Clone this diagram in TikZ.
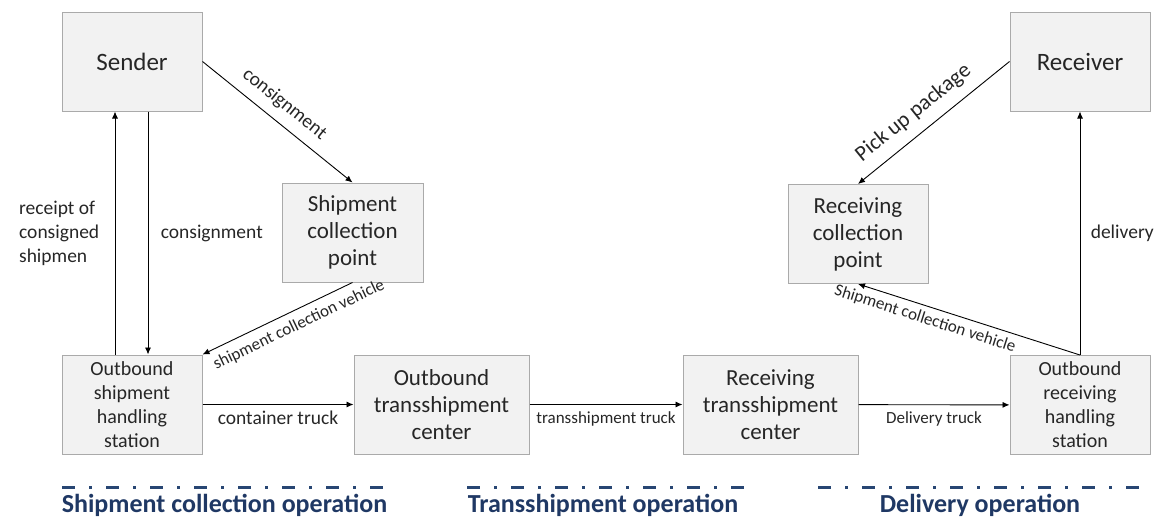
\documentclass[tikz,border=0pt]{standalone}
\usepackage{fontspec}
\setmainfont{Carlito}
\usepackage{tikz}
\usetikzlibrary{arrows.meta}
\definecolor{boxfill}{RGB}{242,242,242}
\definecolor{boxline}{RGB}{170,170,170}
\definecolor{opblue}{RGB}{31,56,100}
\definecolor{oprule}{RGB}{40,70,115}
% dash-dot rule above an operation title: from x #1 to x #2
\newcommand{\opline}[2]{
	\draw[oprule, line width=3pt, dash pattern=on 13pt off 14pt on 3pt off 14pt] (#1,487) -- (#2,487);
}
\tikzset{
	station/.style={draw=boxline, fill=boxfill, line width=1pt, text=black!85, align=center, inner sep=0pt, minimum height=99pt, minimum width=140pt},
	bigtext/.style={font=\fontsize{25}{30}\selectfont},
	midtext/.style={font=\fontsize{23}{27}\selectfont},
	smalltext/.style={font=\fontsize{20}{24}\selectfont},
	flow/.style={-{Latex[length=7pt,width=6pt]}, line width=0.9pt},
	lbl/.style={font=\fontsize{19.5}{24}\selectfont, text=black!85},
	smalllbl/.style={font=\fontsize{17}{20}\selectfont, text=black!85},
	optitle/.style={font=\fontsize{26}{30}\selectfont\bfseries, text=opblue, inner sep=0pt}
}

\begin{document}
\begin{tikzpicture}[x=1pt, y=-1pt]
\useasboundingbox (0,0) rectangle (1166,520);
% sender and receiver
\node[station, bigtext] (sender) at (132,61.5) {Sender};
\node[station, bigtext] (receiver) at (1080,61.5) {Receiver};
% collection points
\node[station, midtext, minimum width=141pt] (scp) at (352.5,232.5) {Shipment\\collection\\point};
\node[station, midtext] (rcp) at (858,234) {Receiving\\collection\\point};
% stations and centers
\node[station, smalltext] (oshs) at (132,404.5) {Outbound\\shipment\\handling\\station};
\node[station, midtext, minimum width=175pt] (otc) at (441.5,404.5) {Outbound\\transshipment\\center};
\node[station, midtext, minimum width=175pt] (rtc) at (770.5,404.5) {Receiving\\transshipment\\center};
\node[station, smalltext] (orhs) at (1080,405) {Outbound\\receiving\\handling\\station};

% flows
\draw[flow] ([xshift=-17pt]oshs.north) -- node[lbl, left=12pt, align=left] {receipt of\\consigned\\shipmen} ([xshift=-17pt]sender.south);
\draw[flow] ([xshift=16pt]sender.south) -- node[lbl, right=9pt] {consignment} ([xshift=16pt]oshs.north);
\draw[flow] (sender.east) -- node[lbl, sloped, above=6pt, pos=0.47] {consignment} (scp.north);
\draw[flow] (scp.south) -- node[smalllbl, sloped, below=4pt, pos=0.4] {shipment collection vehicle} (oshs.north east);
\draw[flow] (oshs) -- node[lbl, below=3pt] {container truck} (otc);
\draw[flow] (otc) -- node[smalllbl, below=3pt] {transshipment truck} (rtc);
\draw[flow] (rtc) -- node[smalllbl, below=3pt] {Delivery truck} (orhs);
\draw[flow] (orhs) -- node[lbl, right=7pt] {delivery} (receiver);
\draw[flow] (orhs.north) -- node[smalllbl, sloped, below=2pt, pos=0.68] {Shipment collection vehicle} (rcp.south);
\draw[flow] (receiver.west) -- node[lbl, font=\fontsize{22}{26}\selectfont, sloped, above=7pt, pos=0.55] {Pick up package} (rcp.north);

% operations
\opline{62}{393}
\opline{467}{745}
\opline{818}{1148}
\node[optitle] (collop) at (224.5,505) {Shipment collection operation};
\node[optitle] (transop) at (603,505) {Transshipment operation};
\node[optitle] (delop) at (980,505) {Delivery operation};
\end{tikzpicture}
\end{document}
